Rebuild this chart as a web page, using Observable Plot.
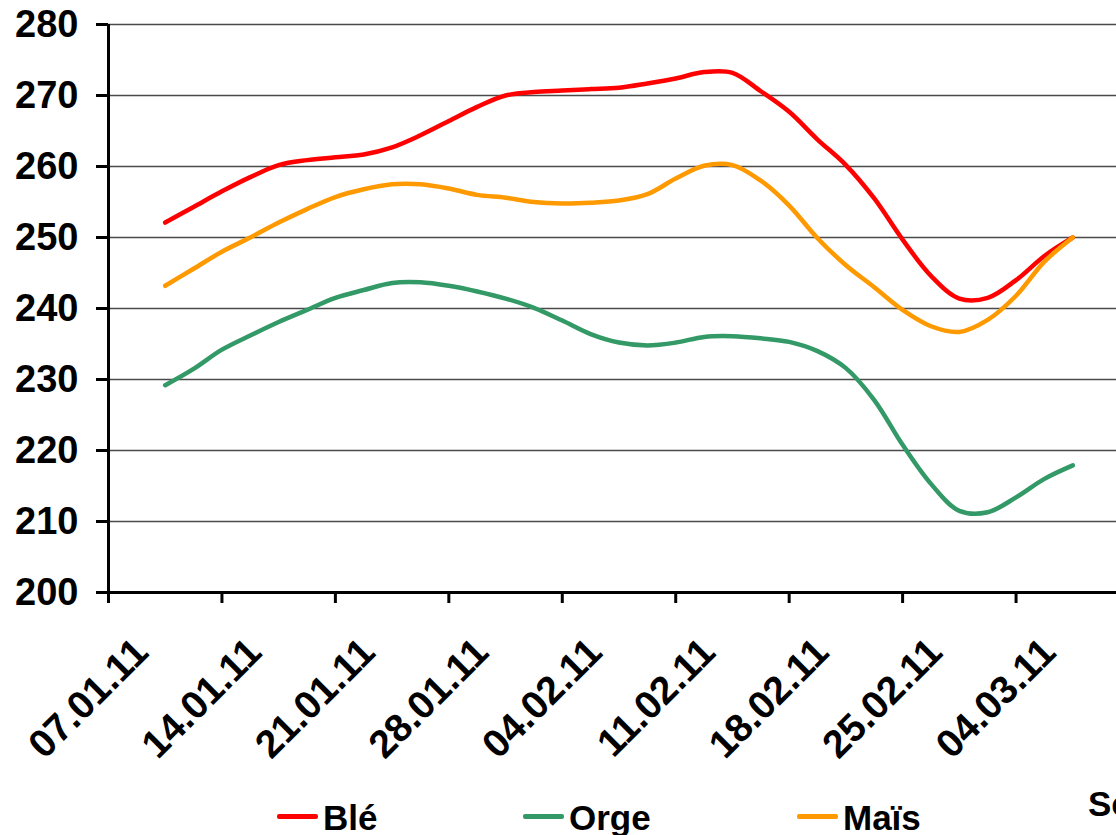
<!DOCTYPE html>
<html>
<head>
<meta charset="utf-8">
<script src="https://cdn.jsdelivr.net/npm/d3@7"></script>
<script src="https://cdn.jsdelivr.net/npm/@observablehq/plot@0.6"></script>
<style>
  html, body { margin: 0; padding: 0; background: #fff; }
  body { width: 1116px; height: 835px; overflow: hidden; position: relative;
         font-family: "Liberation Sans", Arial, sans-serif; }
  #chart { position: absolute; top: 0; left: 0; }
  #chart svg { display: block; overflow: hidden; }
  .legend { position: absolute; top: 760px; left: 0; width: 1116px; height: 75px; }
  .sw { position: absolute; top: 54px; width: 41px; height: 5px; border-radius: 2px; }
  .lab { position: absolute; top: 40px; font-weight: bold; font-size: 35px; line-height: 1; color: #000; }
  .src { position: absolute; top: 26px; left: 1088px; font-weight: bold; font-size: 35px; line-height: 1; white-space: nowrap; }
</style>
</head>
<body>
<div id="chart"></div>
<div class="legend" id="legend"></div>
<script>
// Week categories (tick labels)
const weekLabels = ["07.01.11","14.01.11","21.01.11","28.01.11","04.02.11","11.02.11","18.02.11","25.02.11","04.03.11"];
// Series names and colours
const seriesNames = ["Blé", "Orge", "Maïs"];
const seriesColors = ["#FF0000", "#339966", "#FF9900"];
// Prices read every quarter week from 07.01.11 to 04.03.11
const blePrices  = [252.1,254.3,256.5,258.5,260.2,260.9,261.3,261.7,262.7,264.4,266.4,268.4,270.0,270.5,270.7,270.9,271.1,271.7,272.4,273.3,273.2,270.6,267.7,263.8,260.2,255.5,249.7,244.6,241.4,241.5,244.0,247.4,250.0];
const orgePrices = [229.2,231.5,234.2,236.2,238.1,239.8,241.5,242.6,243.6,243.7,243.2,242.4,241.4,240.1,238.3,236.4,235.2,234.8,235.2,236.0,236.1,235.8,235.3,234.0,231.6,227.1,220.8,215.3,211.5,211.3,213.4,216.0,217.9];
const maisPrices = [243.2,245.6,248.0,250.0,252.1,254.0,255.7,256.8,257.5,257.5,256.9,256.0,255.6,255.0,254.8,254.9,255.2,256.1,258.3,260.1,260.2,258.0,254.5,249.9,246.1,243.0,239.8,237.5,236.7,238.4,241.8,246.6,250.0];
// Axis ticks
const yTicks = [200,210,220,230,240,250,260,270,280];
const gridValues = [210,220,230,240,250,260,270,280];
const source = "Source";

const allSeries = [blePrices, orgePrices, maisPrices];
const rows = allSeries.flatMap((vals, s) =>
  vals.map((v, i) => ({series: seriesNames[s], pos: i / 4, value: v})));
const bandEdges = d3.range(weekLabels.length + 1).map(i => i - 0.5);

const chart = Plot.plot({
  width: 1116,
  height: 780,
  marginTop: 24,
  marginBottom: 188,
  marginLeft: 108,
  marginRight: 0,
  style: {fontFamily: "'Liberation Sans', Arial, sans-serif", background: "transparent", overflow: "hidden"},
  x: {domain: [-0.5, weekLabels.length - 0.5], range: [108, 1129]},
  y: {domain: [200, 280]},
  color: {domain: seriesNames, range: seriesColors},
  marks: [
    Plot.ruleY(gridValues, {stroke: "#4a4a4a", strokeWidth: 1.4}),
    Plot.line(rows, {x: "pos", y: "value", stroke: "series", z: "series", strokeWidth: 4.5, curve: "catmull-rom"}),
    Plot.ruleY([200], {stroke: "#000", strokeWidth: 3}),
    Plot.ruleX([-0.5], {stroke: "#000", strokeWidth: 3}),
    Plot.axisY({ticks: yTicks, tickSize: 12, tickPadding: 18, fontSize: 38, fontWeight: "bold",
                strokeWidth: 3, label: null, tickFormat: d => String(d), fill: "#000"}),
    Plot.axisX({ticks: bandEdges, tickSize: 11, strokeWidth: 3, tickFormat: () => "", label: null}),
    Plot.text(weekLabels, {x: (d, i) => i, y: () => 200, text: d => d, rotate: -45,
                           textAnchor: "end", lineAnchor: "bottom", dx: -15, dy: 62,
                           fontSize: 39, fontWeight: "bold", fill: "#000"})
  ]
});
document.getElementById("chart").appendChild(chart);

// Legend below the chart
const legend = document.getElementById("legend");
const swLeft = [277, 523, 797];
seriesNames.forEach((name, i) => {
  const sw = document.createElement("div");
  sw.className = "sw";
  sw.style.left = swLeft[i] + "px";
  sw.style.background = seriesColors[i];
  legend.appendChild(sw);
  const lab = document.createElement("div");
  lab.className = "lab";
  lab.style.left = (swLeft[i] + 46) + "px";
  lab.textContent = name;
  legend.appendChild(lab);
});
const src = document.createElement("div");
src.className = "src";
src.textContent = source;
legend.appendChild(src);
</script>
</body>
</html>
